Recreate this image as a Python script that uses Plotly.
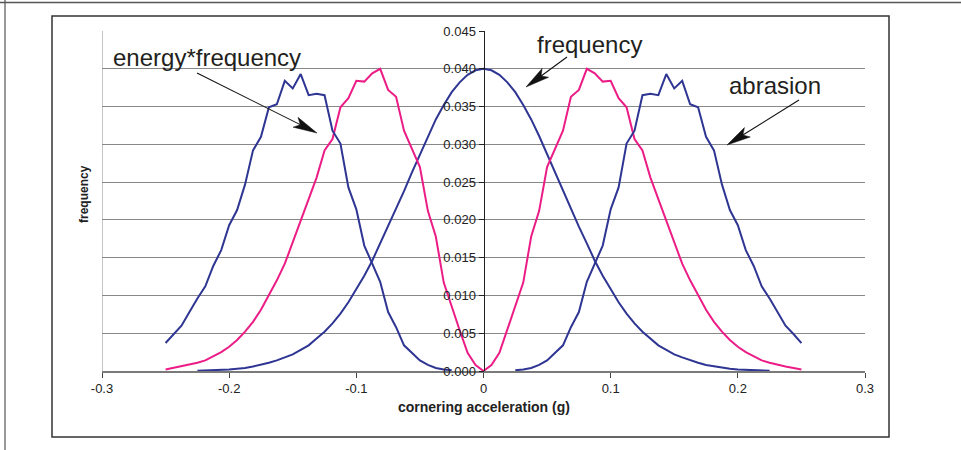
import math
import plotly.graph_objects as go

# cornering acceleration (g), sample grid
acceleration = [
    -0.25, -0.24375, -0.2375, -0.23125, -0.225, -0.21875, -0.2125, -0.20625,
    -0.2, -0.19375, -0.1875, -0.18125, -0.175, -0.16875, -0.1625, -0.15625,
    -0.15, -0.14375, -0.1375, -0.13125, -0.125, -0.11875, -0.1125, -0.10625,
    -0.1, -0.09375, -0.0875, -0.08125, -0.075, -0.06875, -0.0625, -0.05625,
    -0.05, -0.04375, -0.0375, -0.03125, -0.025, -0.01875, -0.0125, -0.00625,
    0.0,
    0.00625, 0.0125, 0.01875, 0.025, 0.03125, 0.0375, 0.04375, 0.05,
    0.05625, 0.0625, 0.06875, 0.075, 0.08125, 0.0875, 0.09375, 0.1,
    0.10625, 0.1125, 0.11875, 0.125, 0.13125, 0.1375, 0.14375, 0.15,
    0.15625, 0.1625, 0.16875, 0.175, 0.18125, 0.1875, 0.19375, 0.2,
    0.20625, 0.2125, 0.21875, 0.225, 0.23125, 0.2375, 0.24375, 0.25,
]

frequency = [
    None, None, None, None,
    0.00002, 0.00005, 0.0001, 0.00015, 0.0002, 0.0003, 0.0004, 0.0006,
    0.0008, 0.0011, 0.0014, 0.0018, 0.0022, 0.0028, 0.0034, 0.0043,
    0.0052, 0.0063, 0.0076, 0.0091, 0.0108, 0.0126, 0.0146, 0.0169,
    0.0191, 0.0213, 0.0238, 0.0263, 0.0287, 0.0311, 0.0333, 0.0352,
    0.0369, 0.0382, 0.0392, 0.0398,
    0.0400,
    0.0398, 0.0392, 0.0382, 0.0369, 0.0352, 0.0333, 0.0311, 0.0287,
    0.0263, 0.0238, 0.0213, 0.0191, 0.0169, 0.0146, 0.0126, 0.0108,
    0.0091, 0.0076, 0.0063, 0.0052, 0.0043, 0.0034, 0.0028, 0.0022,
    0.0018, 0.0014, 0.0011, 0.0008, 0.0006, 0.0004, 0.0003, 0.0002,
    0.00015, 0.0001, 0.00005, 0.00002,
    None, None, None, None,
]

energy_frequency = [
    0.0002, 0.0004, 0.0006, 0.0008, 0.0011, 0.0014, 0.0019, 0.0025,
    0.0032, 0.0041, 0.0052, 0.0065, 0.0081, 0.0100, 0.0120, 0.0142,
    0.0171, 0.0200, 0.0227, 0.0256, 0.0292, 0.0307, 0.0349, 0.0361,
    0.0384, 0.0383, 0.0394, 0.0400, 0.0372, 0.0363, 0.0318, 0.0295,
    0.0270, 0.0212, 0.0178, 0.0117, 0.0084, 0.0054, 0.0024, 0.0008,
    0.0000,
    0.0008, 0.0024, 0.0054, 0.0084, 0.0117, 0.0178, 0.0212, 0.0270,
    0.0295, 0.0318, 0.0363, 0.0372, 0.0400, 0.0394, 0.0383, 0.0384,
    0.0361, 0.0349, 0.0307, 0.0292, 0.0256, 0.0227, 0.0200, 0.0171,
    0.0142, 0.0120, 0.0100, 0.0081, 0.0065, 0.0052, 0.0041, 0.0032,
    0.0025, 0.0019, 0.0014, 0.0011, 0.0008, 0.0006, 0.0004, 0.0002,
]

abrasion = [
    0.0037, 0.0049, 0.0060, 0.0078, 0.0096, 0.0112, 0.0139, 0.0160,
    0.0193, 0.0213, 0.0247, 0.0292, 0.0310, 0.0349, 0.0353, 0.0384,
    0.0374, 0.0393, 0.0365, 0.0367, 0.0365, 0.0318, 0.0301, 0.0243,
    0.0214, 0.0166, 0.0142, 0.0118, 0.0078, 0.0058, 0.0034, 0.0024,
    0.0014, 0.0008, 0.0004, 0.0002, 0.0001,
    None, None, None, None, None, None, None,
    0.0001, 0.0002, 0.0004, 0.0008, 0.0014, 0.0024, 0.0034, 0.0058,
    0.0078, 0.0118, 0.0142, 0.0166, 0.0214, 0.0243, 0.0301, 0.0318,
    0.0365, 0.0367, 0.0365, 0.0393, 0.0374, 0.0384, 0.0353, 0.0349,
    0.0310, 0.0292, 0.0247, 0.0213, 0.0193, 0.0160, 0.0139, 0.0112,
    0.0096, 0.0078, 0.0060, 0.0049, 0.0037,
]

x_tick_values = [-0.3, -0.2, -0.1, 0, 0.1, 0.2, 0.3]
x_tick_labels = ["-0.3", "-0.2", "-0.1", "0", "0.1", "0.2", "0.3"]
y_tick_values = [0.000, 0.005, 0.010, 0.015, 0.020, 0.025, 0.030, 0.035, 0.040, 0.045]
y_tick_labels = ["0.000", "0.005", "0.010", "0.015", "0.020", "0.025",
                 "0.030", "0.035", "0.040", "0.045"]

BLUE = "#2E3592"
PINK = "#EC1C86"
FONT = "Liberation Sans, Arial, sans-serif"

fig = go.Figure()
fig.add_trace(go.Scatter(x=acceleration, y=frequency, mode="lines",
                         line=dict(color=BLUE, width=2), name="frequency"))
fig.add_trace(go.Scatter(x=acceleration, y=energy_frequency, mode="lines",
                         line=dict(color=PINK, width=2), name="energy*frequency"))
fig.add_trace(go.Scatter(x=acceleration, y=abrasion, mode="lines",
                         line=dict(color=BLUE, width=2), name="abrasion"))

W, H = 961, 450
ML, MR, MT, MB = 102, 96, 31, 79
PW, PH = W - ML - MR, H - MT - MB


def px(X):
    return (X - ML) / PW


def py(Y):
    return (H - MB - Y) / PH


shapes = [
    # plot-area left border
    dict(type="line", xref="x", yref="y", x0=-0.3, x1=-0.3, y0=0, y1=0.045,
         line=dict(color="#8C8C8C", width=1), layer="below"),
    # chart box
    dict(type="rect", xref="paper", yref="paper",
         x0=px(52), x1=px(889), y0=py(16), y1=py(437),
         line=dict(color="#333333", width=1.5)),
    # page lines
    dict(type="line", xref="paper", yref="paper",
         x0=px(0), x1=px(961), y0=py(2.5), y1=py(2.5),
         line=dict(color="#555555", width=1.5)),
    dict(type="line", xref="paper", yref="paper",
         x0=px(5), x1=px(5), y0=py(0), y1=py(450),
         line=dict(color="#555555", width=1.2)),
]

# callout arrows (label pointers), pixel positions: (tail, tip)
arrows = [((197, 73), (317, 133)),
          ((567, 57), (526, 87)),
          ((799, 100), (727, 145))]
HEAD_L, HEAD_W, NOTCH = 24, 11, 0.78
for (tx, ty), (hx, hy) in arrows:
    dx, dy = hx - tx, hy - ty
    d = math.hypot(dx, dy)
    ux, uy = dx / d, dy / d
    nx, ny = -uy, ux
    bx, by = hx - HEAD_L * ux, hy - HEAD_L * uy
    mx, my = hx - NOTCH * HEAD_L * ux, hy - NOTCH * HEAD_L * uy
    p1 = (bx + HEAD_W / 2 * nx, by + HEAD_W / 2 * ny)
    p2 = (bx - HEAD_W / 2 * nx, by - HEAD_W / 2 * ny)
    shapes.append(dict(type="line", xref="paper", yref="paper",
                       x0=px(tx), y0=py(ty), x1=px(mx), y1=py(my),
                       line=dict(color="#111111", width=1.1)))
    path = "M {:.5f},{:.5f} L {:.5f},{:.5f} L {:.5f},{:.5f} L {:.5f},{:.5f} Z".format(
        px(hx), py(hy), px(p1[0]), py(p1[1]), px(mx), py(my), px(p2[0]), py(p2[1]))
    shapes.append(dict(type="path", xref="paper", yref="paper", path=path,
                       fillcolor="#111111", line=dict(color="#111111", width=0.5)))

ann_font = dict(family=FONT, size=24, color="#231F20")
annotations = [
    dict(text="energy*frequency", x=-0.2174, y=0.0415, xref="x", yref="y",
         showarrow=False, font=ann_font),
    dict(text="frequency", x=0.0837, y=0.0432, xref="x", yref="y",
         showarrow=False, font=ann_font),
    dict(text="abrasion", x=0.2295, y=0.0378, xref="x", yref="y",
         showarrow=False, font=ann_font),
    dict(text="<b>cornering acceleration (g)</b>", x=0.5, y=py(417),
         xref="paper", yref="paper", showarrow=False,
         font=dict(family=FONT, size=14, color="#222222")),
    dict(text="<b>frequency</b>", x=px(75), y=py(194), xref="paper", yref="paper",
         showarrow=False, textangle=-90,
         font=dict(family=FONT, size=12, color="#222222")),
]

fig.update_layout(
    width=W, height=H,
    margin=dict(l=ML, r=MR, t=MT, b=MB, autoexpand=False),
    paper_bgcolor="white", plot_bgcolor="white",
    showlegend=False,
    font=dict(family=FONT, size=13, color="#222222"),
    shapes=shapes, annotations=annotations,
    xaxis=dict(range=[-0.3, 0.3], tickvals=x_tick_values, ticktext=x_tick_labels,
               showgrid=False, zeroline=False, showline=True,
               linecolor="#7A7A7A", linewidth=1.5, ticks="outside", ticklen=5,
               tickcolor="#444444", tickfont=dict(family=FONT, size=13, color="#222222"),
               fixedrange=True),
    yaxis=dict(range=[0, 0.045], tickvals=y_tick_values, ticktext=y_tick_labels,
               anchor="free", position=0.5, side="left",
               showgrid=True, gridcolor="#888888", gridwidth=1, zeroline=False,
               showline=True, linecolor="#222222", linewidth=1,
               ticks="outside", ticklen=5, tickcolor="#222222",
               tickfont=dict(family=FONT, size=13, color="#222222"),
               fixedrange=True),
)

fig.write_html("out.html",
               config={"displayModeBar": False},
               post_script="document.body.style.margin='0';")
